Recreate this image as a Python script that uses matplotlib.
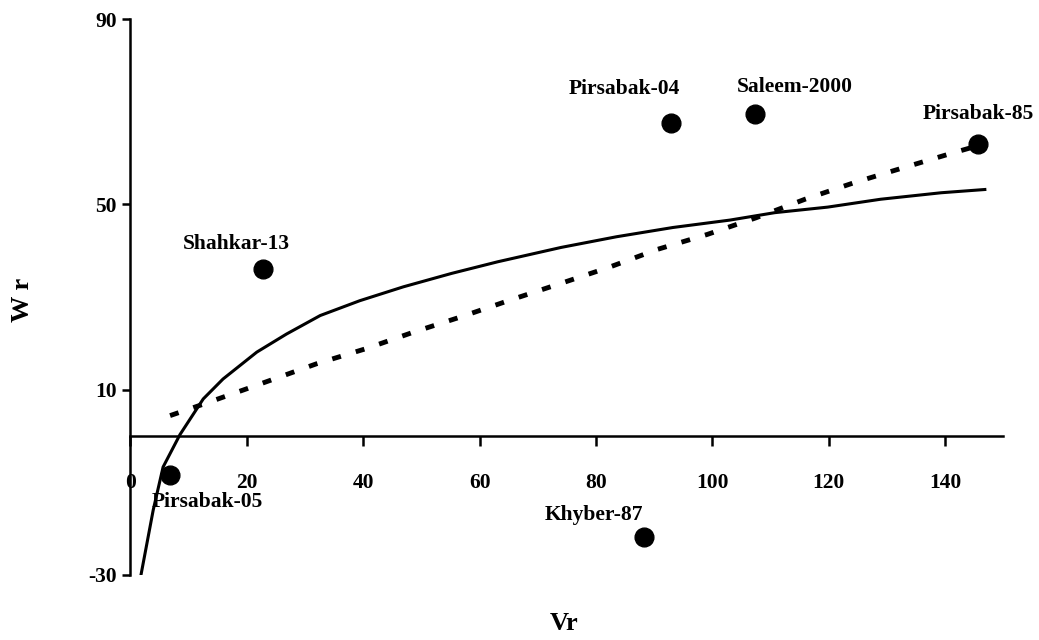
import matplotlib
matplotlib.use("Agg")
import matplotlib.pyplot as plt

# genotype points
names = ["Pirsabak-05", "Shahkar-13", "Khyber-87", "Pirsabak-04", "Saleem-2000", "Pirsabak-85"]
vr = [6.8, 22.8, 88.2, 92.9, 107.3, 145.6]
wr = [-8.5, 36.0, -21.8, 67.6, 69.4, 63.1]

# solid curve
solid_x = [1.8, 3.9, 5.6, 8.5, 12.5, 15.9, 21.7, 26.8, 32.6, 39.4, 46.9, 55.2,
           63.1, 74.0, 83.5, 93.2, 103.0, 110.7, 119.8, 128.9, 139.3, 146.8]
solid_y = [-30.0, -16.0, -6.7, 0.3, 8.0, 12.3, 18.1, 22.0, 26.0, 29.2, 32.2, 35.1,
           37.6, 40.7, 43.0, 45.0, 46.6, 48.2, 49.4, 51.1, 52.5, 53.2]

# dashed curve
dash_x = [6.8, 11.9, 20.0, 24.0, 32.0, 40.6, 48.6, 57.0, 65.4, 74.1, 82.2, 90.6,
          99.1, 107.5, 115.9, 124.4, 132.8, 141.3, 145.2]
dash_y = [4.4, 6.6, 10.2, 12.0, 15.6, 18.9, 22.4, 25.8, 29.4, 33.0, 36.4, 40.3,
          43.5, 47.1, 51.1, 54.7, 57.9, 61.1, 62.5]

xticks = [0, 20, 40, 60, 80, 100, 120, 140]
yticks = [-30, 10, 50, 90]

# label offsets in points (dx, dy)
offsets = [(27, -19), (-19, 18), (-36, 16), (-34, 24), (29, 20), (0, 21)]

plt.rcParams["font.family"] = ["Liberation Serif", "DejaVu Serif"]
plt.rcParams["font.weight"] = "bold"

fig = plt.figure(figsize=(10.39, 6.4), dpi=100)
ax = fig.add_axes([0.1256, 0.1016, 0.8402, 0.8687])

ax.spines["top"].set_visible(False)
ax.spines["right"].set_visible(False)
ax.spines["bottom"].set_position(("data", 0))
ax.spines["left"].set_linewidth(1.8)
ax.spines["bottom"].set_linewidth(1.8)

ax.plot(solid_x, solid_y, color="black", lw=2.2, zorder=2)
ax.plot(dash_x, dash_y, color="black", lw=3.5, dashes=(1.85, 3.2), zorder=2)
ax.plot(vr, wr, "o", color="black", ms=13.5, zorder=3)

for n, x, y, (dx, dy) in zip(names, vr, wr, offsets):
    ax.annotate(n, (x, y), xytext=(dx, dy), textcoords="offset points",
                ha="center", va="center", fontsize=15.5, fontweight="bold")

ax.set_xlim(0, 150)
ax.set_ylim(-30, 90)
ax.set_xticks(xticks)
ax.set_yticks(yticks)
ax.set_xticklabels([str(t) for t in xticks], fontsize=15.5, fontweight="bold")
ax.set_yticklabels([str(t) for t in yticks], fontsize=15.5, fontweight="bold")
ax.tick_params(axis="x", direction="out", length=7, width=1.8, pad=20)
ax.tick_params(axis="y", direction="out", length=6, width=1.8, pad=4)

fig.text(0.022, 0.531, "W r", fontsize=19, fontweight="bold", rotation=90,
         ha="center", va="center")
fig.text(0.543, 0.025, "Vr", fontsize=19, fontweight="bold", ha="center", va="center")

fig.savefig("out.png", dpi=100)
